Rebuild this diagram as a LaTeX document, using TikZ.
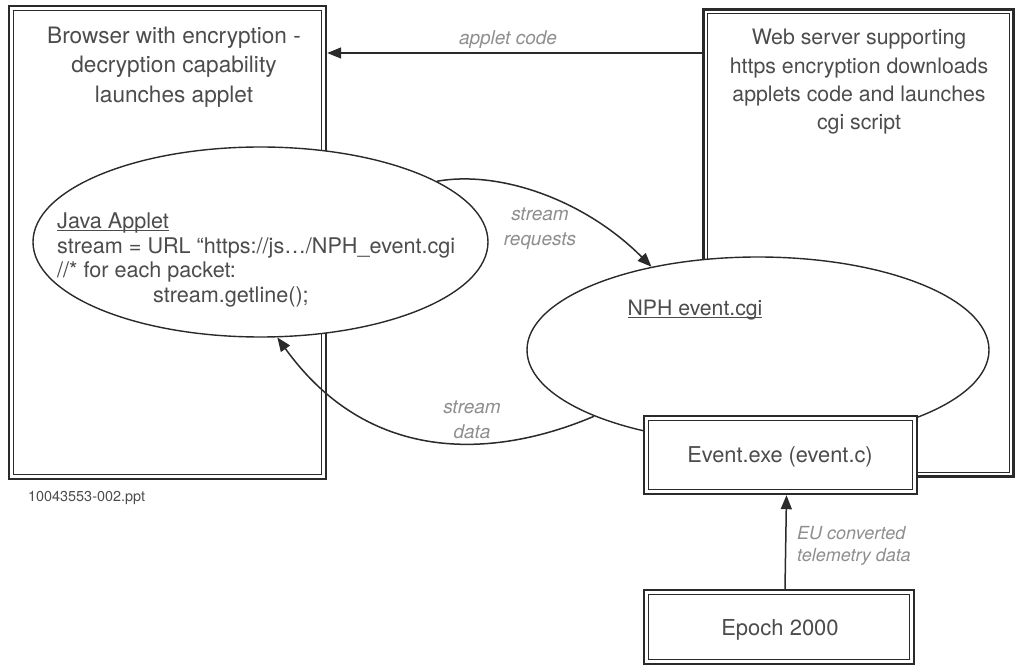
\documentclass[tikz,border=0pt]{standalone}
\usepackage{fontspec}
\setmainfont{TeX Gyre Heros}
\usetikzlibrary{arrows.meta,shapes.geometric}
\definecolor{ink}{HTML}{2A2A2A}
\definecolor{txt}{HTML}{4C4C4C}
\definecolor{lbl}{HTML}{8E8E8E}
% underline set close to the baseline
\newcommand\undl[1]{\leavevmode\setbox0\hbox{#1}\rlap{\rule[-2.4pt]{\wd0}{0.9pt}}\box0}

\begin{document}
\begin{tikzpicture}[x=1pt,y=-1pt,
  frame/.style={rectangle, draw=ink, line width=2.4pt, fill=white, inner sep=0pt},
  inner/.style={draw=ink, line width=1.1pt},
  oval/.style={ellipse, draw=ink, line width=1.4pt, fill=white, inner sep=0pt},
  boxtext/.style={text=txt, align=center, inner sep=0pt, font=\fontsize{21}{29}\selectfont},
  flow/.style={draw=ink, line width=1.5pt, -{Triangle[length=14pt,width=11pt]}},
  flowlabel/.style={text=lbl, align=center, inner sep=0pt, font=\fontsize{19}{25}\selectfont\itshape}
]
\useasboundingbox (0,0) rectangle (1021,668);

% outer frames: browser and web server
\node[frame, minimum width=317pt, minimum height=473pt] (browser) at (167.5,242.5) {};
\node[frame, minimum width=310pt, minimum height=467pt] (server) at (858.5,243) {};
\foreach \n in {browser,server}
  \draw[inner] ([shift={(5.6pt,-5.6pt)}]\n.north west) rectangle ([shift={(-5.6pt,5.6pt)}]\n.south east);

% the two processes
\node[oval, minimum width=455pt, minimum height=190pt] (java) at (260.5,242) {};
\node[oval, minimum width=462pt, minimum height=186pt] (nph) at (758,350) {};

% executables
\node[frame, minimum width=273pt, minimum height=78pt] (event) at (780.5,455) {};
\node[frame, minimum width=270pt, minimum height=74pt] (epoch) at (779,627) {};
\foreach \n in {event,epoch}
  \draw[inner] ([shift={(5.6pt,-5.6pt)}]\n.north west) rectangle ([shift={(-5.6pt,5.6pt)}]\n.south east);

% texts
\node[boxtext, font=\fontsize{22.6}{29.5}\selectfont] (browsertext) at (174,67) {Browser with encryption -\\decryption capability\\launches applet};
\node[boxtext, font=\fontsize{21.3}{28.3}\selectfont] (servertext) at (859,82) {Web server supporting\\https encryption downloads\\applets code and launches\\cgi script};
\node[text=txt, align=left, inner sep=0pt, anchor=north west, font=\fontsize{21.6}{24.5}\selectfont] (javatext) at (57,213)
  {\undl{Java Applet}\\stream = URL “https://js…/NPH\_event.cgi\\//* for each packet:\\\hspace*{96pt}stream.getline();};
\node[text=txt, inner sep=0pt, font=\fontsize{21.2}{25}\selectfont] (nphtext) at (695,310) {\undl{NPH event.cgi}};
\node[text=txt, inner sep=0pt, font=\fontsize{21.8}{25}\selectfont] (eventtext) at (780,457) {Event.exe (event.c)};
\node[text=txt, inner sep=0pt, font=\fontsize{22}{25}\selectfont] (epochtext) at (780,630) {Epoch 2000};
\node[text=txt, inner sep=0pt, anchor=west, font=\fontsize{14.4}{17}\selectfont] (fileref) at (28,498) {10043553-002.ppt};

% connectors
\coordinate (codey) at (0,53);
\draw[flow] (server.west |- codey) -- (browser.east |- codey);
\draw[flow] (java.19) .. controls (500,170) and (585,200) .. (nph.142);
\draw[flow] (nph.202) .. controls (520,448) and (380,480) .. (java.-80);
\draw[flow] ([xshift=6pt]epoch.north) -- ([xshift=6pt]event.south);

% connector labels
\node[flowlabel] (codelabel) at (508,40) {applet code};
\node[flowlabel] (reqlabel) at (540,229) {stream\\requests};
\node[flowlabel] (datalabel) at (472,420) {stream\\data};
\node[flowlabel, align=left, anchor=west, font=\fontsize{18}{22}\selectfont\itshape] (eulabel) at (797,546) {EU converted\\telemetry data};
\end{tikzpicture}
\end{document}
